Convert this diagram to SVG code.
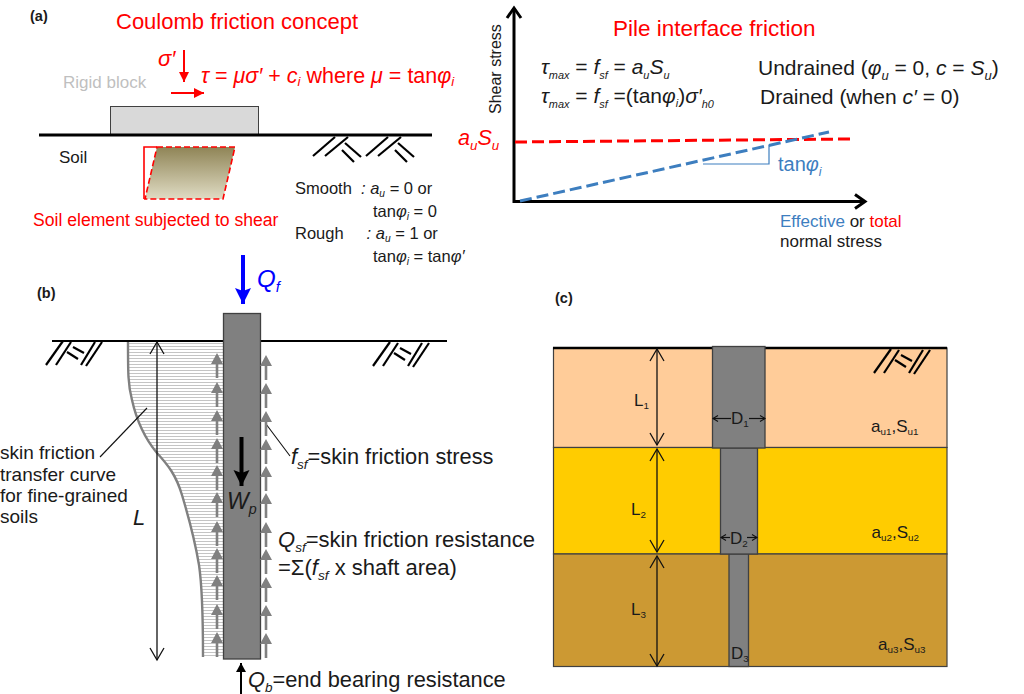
<svg xmlns="http://www.w3.org/2000/svg" width="1024" height="694" viewBox="0 0 1024 694">
<style>
text{font-family:"Liberation Sans",Arial,sans-serif;fill:#1a1a1a}
.b{font-weight:bold;font-size:14.5px}
.i{font-style:italic}
.red{fill:#ff0000}.blue{fill:#3d7ebf}
.s{font-size:.62em;font-style:italic}
.sm{font-size:.52em;font-style:italic}
.n{font-size:.58em}
.t16{font-size:16.5px}.t17{font-size:17px}.t19{font-size:19px}.t20{font-size:20px}.t21{font-size:21px}.t22{font-size:22px}
.pile{fill:#808080;stroke:#404040;stroke-width:1.3}
.layer{stroke:#404040;stroke-width:1.2}
.h line{stroke:#000;stroke-width:2.2;fill:none}
.dim{stroke:#111;stroke-width:1.3;fill:none;marker-start:url(#open);marker-end:url(#open)}
.dsm{stroke:#111;stroke-width:1.2;fill:none;marker-end:url(#opens)}
</style>
<defs>
<marker id="open" markerUnits="userSpaceOnUse" markerWidth="18" markerHeight="18" refX="14" refY="9" orient="auto-start-reverse"><path d="M2 2L14 9L2 16" fill="none" stroke="#111" stroke-width="1.3"/></marker>
<marker id="opens" markerUnits="userSpaceOnUse" markerWidth="8" markerHeight="8" refX="6" refY="4" orient="auto"><path d="M1 1L6 4L1 7" fill="none" stroke="#111" stroke-width="1.1"/></marker>
<marker id="ax" markerUnits="userSpaceOnUse" markerWidth="20" markerHeight="20" refX="16" refY="10" orient="auto"><path d="M6 3L16 10L6 17" fill="none" stroke="#000" stroke-width="3"/></marker>
<marker id="redh" markerUnits="userSpaceOnUse" markerWidth="12" markerHeight="12" refX="11" refY="6" orient="auto"><path d="M1 1L11 6L1 11Z" fill="#ff0000"/></marker>
<marker id="blueh" markerUnits="userSpaceOnUse" markerWidth="20" markerHeight="20" refX="18" refY="10" orient="auto"><path d="M2 2L18 10L2 18L5 10Z" fill="#0000ff"/></marker>
<marker id="blackh" markerUnits="userSpaceOnUse" markerWidth="20" markerHeight="20" refX="18" refY="10" orient="auto"><path d="M2 2L18 10L2 18L5 10Z" fill="#000"/></marker>
<marker id="blacks" markerUnits="userSpaceOnUse" markerWidth="12" markerHeight="12" refX="10" refY="6" orient="auto"><path d="M1 1L10 6L1 11Z" fill="#000"/></marker>
<linearGradient id="soil" x1="0" y1="0" x2="0" y2="1"><stop offset="0" stop-color="#8f8456"/><stop offset="1" stop-color="#e0dcc4"/></linearGradient>
<pattern id="hatch" width="6" height="3" patternUnits="userSpaceOnUse"><rect width="6" height="3" fill="#fff"/><line x1="0" y1="1.5" x2="6" y2="1.5" stroke="#c4c4c4" stroke-width="1"/></pattern>
<g id="gs" class="h"><line x1="0" y1="25" x2="17" y2="1"/><line x1="10" y1="25" x2="25" y2="2"/><line x1="21" y1="12" x2="32" y2="19"/><line x1="27" y1="7" x2="38" y2="13"/><line x1="35" y1="25" x2="49" y2="2"/><line x1="40" y1="26" x2="56" y2="2"/></g>
<g id="ga" class="h"><line x1="0" y1="19" x2="22" y2="0"/><line x1="12" y1="19" x2="35" y2="0"/><line x1="32" y1="6" x2="48" y2="20"/><line x1="29" y1="13" x2="41" y2="25"/></g>
<path id="ua" d="M-1.3 11V25H1.3V11H6L0 0L-6 11Z" fill="#808080"/>
</defs>

<rect width="1024" height="694" fill="#fff"/>

<g id="panel-a-friction">
<text class="b" x="30" y="21">(a)</text>
<text class="t22 red" x="116" y="29">Coulomb friction concept</text>
<text class="t22 red i" x="158" y="66">σ′</text>
<text class="red" style="font-size:21.5px" x="201" y="83"><tspan class="i">τ</tspan> = <tspan class="i">μσ′</tspan> + <tspan class="i">c</tspan><tspan class="s" dy="3">i</tspan><tspan dy="-3"> where </tspan><tspan class="i">μ</tspan> = tan<tspan class="i">φ</tspan><tspan class="s" dy="3">i</tspan></text>
<text class="t17" x="63" y="88" style="fill:#bfbfbf">Rigid block</text>
<rect x="110.5" y="106.5" width="148" height="28" fill="#d9d9d9" stroke="#404040" stroke-width="1"/>
<line x1="39" y1="135" x2="432" y2="135" stroke="#000" stroke-width="3"/>
<use href="#ga" x="313" y="137"/><use href="#ga" x="366" y="137"/>
<text class="t17" x="59" y="163">Soil</text>
<path d="M157 147H144V199" fill="none" stroke="#ff0000" stroke-width="1.6"/>
<path d="M157 147H235L223 199H145Z" fill="url(#soil)" stroke="#ff0000" stroke-width="1.6" stroke-dasharray="6 3"/>
<text class="red" style="font-size:17.6px" x="33" y="226">Soil element subjected to shear</text>
<text class="t16" x="295" y="194">Smooth <tspan class="i" x="361">: a</tspan><tspan class="s" dy="3">u</tspan><tspan dy="-3"> = 0 or</tspan></text>
<text class="t16" x="373" y="217">tan<tspan class="i">φ</tspan><tspan class="s" dy="3">i</tspan><tspan dy="-3"> = 0</tspan></text>
<text class="t16" x="295" y="239">Rough<tspan class="i" x="362"> : a</tspan><tspan class="s" dy="3">u</tspan><tspan dy="-3"> = 1 or</tspan></text>
<text class="t16" x="373" y="262">tan<tspan class="i">φ</tspan><tspan class="s" dy="3">i</tspan><tspan dy="-3"> = tan</tspan><tspan class="i">φ′</tspan></text>
</g>

<g id="panel-a-chart">
<text style="font-size:16px" transform="translate(501 114) rotate(-90)">Shear stress</text>
<text class="red" style="font-size:22.5px" x="613" y="36">Pile interface friction</text>
<text class="t21" x="541" y="74"><tspan class="i">τ</tspan><tspan class="sm" dy="5">max</tspan><tspan dy="-5"> = </tspan><tspan class="i">f</tspan><tspan class="sm" dy="5">sf</tspan><tspan dy="-5"> = </tspan><tspan class="i">a</tspan><tspan class="sm" dy="5">u</tspan><tspan class="i" dy="-5">S</tspan><tspan class="sm" dy="5">u</tspan></text>
<text class="t21" x="541" y="103"><tspan class="i">τ</tspan><tspan class="sm" dy="5">max</tspan><tspan dy="-5"> = </tspan><tspan class="i">f</tspan><tspan class="sm" dy="5">sf</tspan><tspan dy="-5"> =(tan</tspan><tspan class="i">φ</tspan><tspan class="sm" dy="4">i</tspan><tspan dy="-4">)</tspan><tspan class="i">σ′</tspan><tspan class="sm" dy="5">h0</tspan></text>
<text class="t21" x="758" y="75">Undrained (<tspan class="i">φ</tspan><tspan class="s" dy="5">u</tspan><tspan dy="-5"> = 0, </tspan><tspan class="i">c</tspan> = <tspan class="i">S</tspan><tspan class="s" dy="5">u</tspan><tspan dy="-5">)</tspan></text>
<text class="t21" x="760" y="104">Drained (when <tspan class="i">c′</tspan> = 0)</text>
<text class="red i" style="font-size:21.5px" x="458" y="145">a<tspan class="s" dy="5">u</tspan><tspan dy="-5">S</tspan><tspan class="s" dy="5">u</tspan></text>
<text class="t20 blue" x="778" y="171">tan<tspan class="i">φ</tspan><tspan class="s" dy="5">i</tspan></text>
<text class="t17 blue" x="780" y="227">Effective <tspan style="fill:#1a1a1a">or </tspan><tspan class="red">total</tspan></text>
<text class="t17" x="780" y="247">normal stress</text>
</g>

<g id="panel-b-pile">
<text class="b" x="37" y="298">(b)</text>
<path d="M128 342C128 373 128 385 132 400C136 418 142 435 157 453C168 465 176 475 182 495C188 515 194 535 199 565C202 585 203 610 203 657H223V342Z" fill="url(#hatch)"/>
<path d="M128 342C128 373 128 385 132 400C136 418 142 435 157 453C168 465 176 475 182 495C188 515 194 535 199 565C202 585 203 610 203 657" fill="none" stroke="#808080" stroke-width="2.4"/>
<line x1="52" y1="341" x2="447" y2="341" stroke="#000" stroke-width="1.8"/>
<use href="#gs" x="46" y="340"/><use href="#gs" x="373" y="341"/>
<rect class="pile" x="223.5" y="313.5" width="37" height="345.5"/>
<text class="t19" x="0" y="459">skin friction</text>
<text class="t19" x="0" y="481">transfer curve</text>
<text class="t19" x="0" y="502">for fine-grained</text>
<text class="t19" x="0" y="523">soils</text>
<text class="t22 i" x="133" y="525">L</text>
<text x="227" y="509" class="i" style="font-size:23px">W<tspan class="s" dy="5">p</tspan></text>
<text x="257" y="287" class="i" style="font-size:24px;fill:#0000ff">Q<tspan class="s" dy="5" style="fill:#0000ff">f</tspan></text>
<text style="font-size:21.8px" x="291" y="464"><tspan class="i">f</tspan><tspan class="s" dy="5">sf</tspan><tspan dy="-5">=skin friction stress</tspan></text>
<text class="t22" x="278" y="547"><tspan class="i">Q</tspan><tspan class="s" dy="5">sf</tspan><tspan dy="-5">=skin friction resistance</tspan></text>
<text class="t22" x="278" y="575">=Σ(<tspan class="i">f</tspan><tspan class="s" dy="5">sf</tspan><tspan dy="-5"> x shaft area)</tspan></text>
<text style="font-size:21.8px" x="248" y="687"><tspan class="i">Q</tspan><tspan class="s" dy="5">b</tspan><tspan dy="-5">=end bearing resistance</tspan></text>
</g>

<g id="panel-c-layers">
<text class="b" x="555" y="303">(c)</text>
<rect class="layer" x="553.5" y="348" width="393.5" height="99.5" fill="#ffcc99"/>
<rect class="layer" x="553.5" y="447.5" width="393.5" height="106.5" fill="#ffcc00"/>
<rect class="layer" x="553.5" y="554" width="393.5" height="112.5" fill="#cc9933"/>
<line x1="553" y1="348" x2="947" y2="348" stroke="#000" stroke-width="2.4"/>
<rect class="pile" x="729" y="554" width="19.5" height="112.5"/>
<rect class="pile" x="720.5" y="448" width="37" height="106"/>
<rect class="pile" x="712.5" y="346.5" width="52.5" height="101.5"/>
<use href="#gs" x="874" y="348"/>
<text class="t17" x="634" y="406">L<tspan class="n" dy="3">1</tspan></text>
<text class="t17" x="631" y="515">L<tspan class="n" dy="3">2</tspan></text>
<text class="t17" x="631" y="615">L<tspan class="n" dy="3">3</tspan></text>
<text class="t17" x="731" y="424">D<tspan class="n" dy="3">1</tspan></text>
<text class="t17" x="730" y="544">D<tspan class="n" dy="3">2</tspan></text>
<text class="t17" x="731" y="659">D<tspan class="n" dy="3">3</tspan></text>
<text class="t17" x="871" y="432">a<tspan class="n" dy="3">u1</tspan><tspan dy="-3">,S</tspan><tspan class="n" dy="3">u1</tspan></text>
<text class="t17" x="871.5" y="538">a<tspan class="n" dy="3">u2</tspan><tspan dy="-3">,S</tspan><tspan class="n" dy="3">u2</tspan></text>
<text class="t17" x="878" y="650">a<tspan class="n" dy="3">u3</tspan><tspan dy="-3">,S</tspan><tspan class="n" dy="3">u3</tspan></text>
</g>

<g id="connectors">
<line x1="184" y1="50" x2="184" y2="82" stroke="#ff0000" stroke-width="2" marker-end="url(#redh)"/>
<line x1="171" y1="93" x2="204" y2="93" stroke="#ff0000" stroke-width="2" marker-end="url(#redh)"/>
<polyline points="514,203 514,8" fill="none" stroke="#000" stroke-width="3" marker-end="url(#ax)"/>
<polyline points="513,201.5 865,201.5" fill="none" stroke="#000" stroke-width="3" marker-end="url(#ax)"/>
<line x1="515" y1="142" x2="850" y2="139" stroke="#ff0000" stroke-width="3" stroke-dasharray="12 5"/>
<path d="M703 164H769V145" fill="none" stroke="#3d7ebf" stroke-width="1.2"/>
<line x1="520" y1="201" x2="829" y2="132" stroke="#3d7ebf" stroke-width="3" stroke-dasharray="12 5"/>
<line x1="243" y1="255" x2="243" y2="304" stroke="#0000ff" stroke-width="4" marker-end="url(#blueh)"/>
<line x1="241.5" y1="437" x2="241.5" y2="486" stroke="#000" stroke-width="4" marker-end="url(#blackh)"/>
<line x1="241" y1="694" x2="241" y2="663" stroke="#000" stroke-width="2" marker-end="url(#blacks)"/>
<line class="dim" x1="157" y1="342" x2="157" y2="660"/>
<line x1="100" y1="457" x2="147" y2="408" stroke="#111" stroke-width="1.1"/>
<line x1="266" y1="424" x2="290" y2="456" stroke="#111" stroke-width="1.1"/>
<g id="shaft-left">
<use href="#ua" x="217" y="353"/><use href="#ua" x="217" y="382"/><use href="#ua" x="217" y="410"/><use href="#ua" x="217" y="438"/><use href="#ua" x="217" y="465"/><use href="#ua" x="217" y="492"/><use href="#ua" x="217" y="521"/><use href="#ua" x="217" y="548"/><use href="#ua" x="217" y="575"/><use href="#ua" x="217" y="604"/><use href="#ua" x="217" y="632"/>
</g>
<g id="shaft-right">
<use href="#ua" x="266" y="355"/><use href="#ua" x="266" y="383"/><use href="#ua" x="266" y="411"/><use href="#ua" x="266" y="439"/><use href="#ua" x="266" y="466"/><use href="#ua" x="266" y="493"/><use href="#ua" x="266" y="522"/><use href="#ua" x="266" y="549"/><use href="#ua" x="266" y="577"/><use href="#ua" x="266" y="605"/><use href="#ua" x="266" y="633"/>
</g>
<line class="dim" x1="657" y1="349" x2="657" y2="445"/>
<line class="dim" x1="657" y1="449" x2="657" y2="552"/>
<line class="dim" x1="657" y1="556" x2="657" y2="666"/>
<line class="dsm" x1="731" y1="418.5" x2="713" y2="418.5"/>
<line class="dsm" x1="749" y1="418.5" x2="765" y2="418.5"/>
<line class="dsm" x1="730" y1="537.5" x2="721" y2="537.5"/>
<line class="dsm" x1="747" y1="537.5" x2="757" y2="537.5"/>
</g>
</svg>
